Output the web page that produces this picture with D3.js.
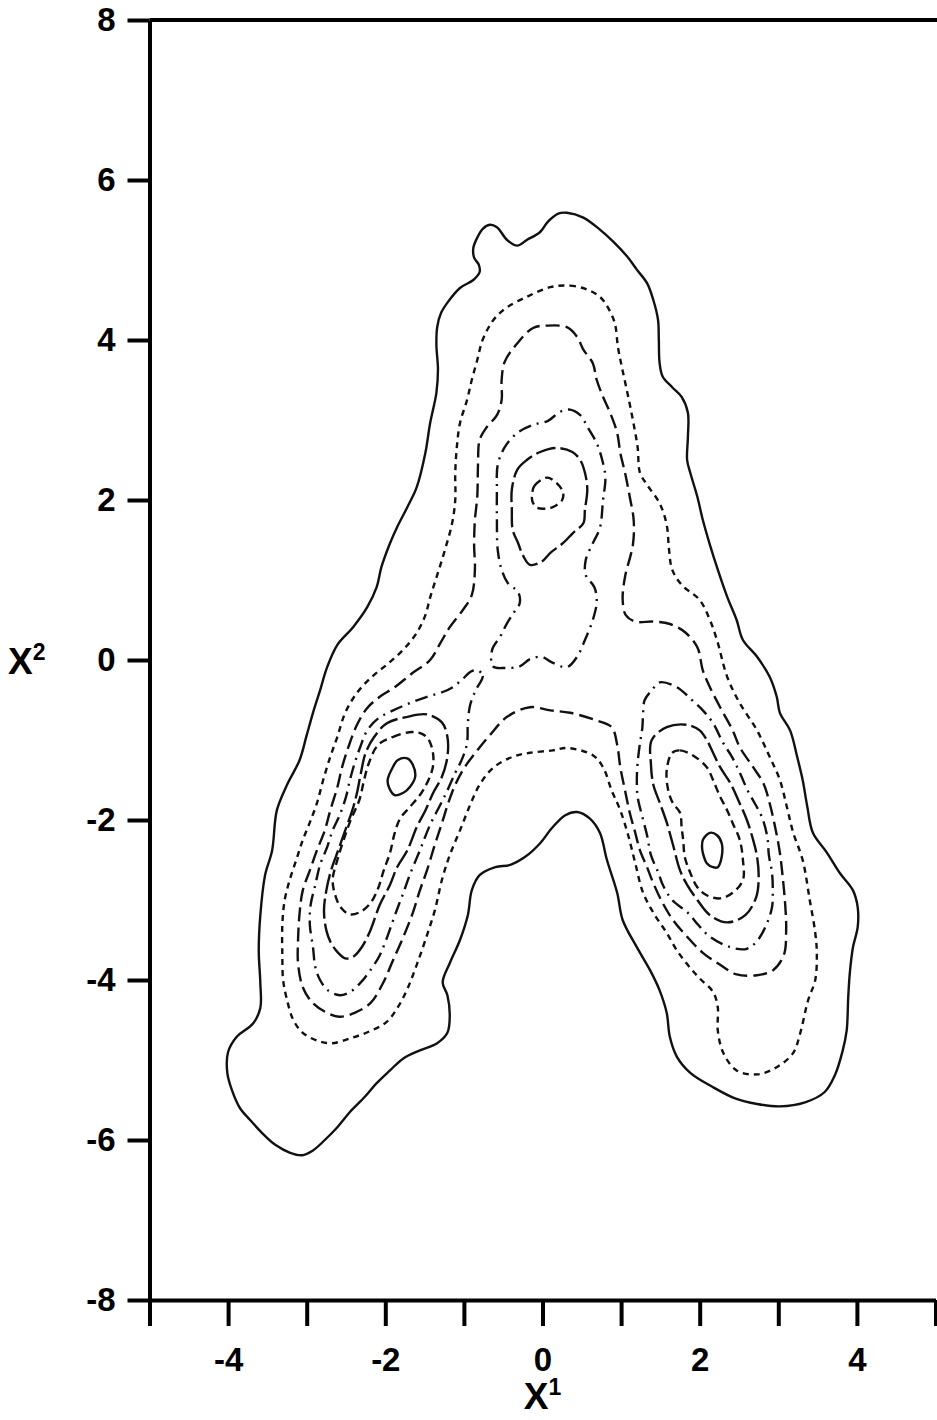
<!DOCTYPE html>
<html>
<head>
<meta charset="utf-8">
<script src="https://cdn.jsdelivr.net/npm/d3@7"></script>
<style>
    body { margin: 0; background: #fff; }
    svg { display: block; background: #fff; }
    .axis text { font-family: "Liberation Sans", Arial, sans-serif; font-weight: bold; font-size: 33px; fill: #000; }
    .axis line, .axis path { stroke: #000; stroke-width: 4; }
    .title { font-family: "Liberation Sans", Arial, sans-serif; font-weight: bold; fill: #000; }
    .contour { fill: none; stroke: #111; stroke-width: 2.4; stroke-linejoin: round; }
</style>
</head>
<body>
<div id="graph"></div>
<script>
// axis ticks
var xTicks = [-5, -4, -3, -2, -1, 0, 1, 2, 3, 4, 5];
var xLabels = [-4, -2, 0, 2, 4];
var yTicks = [-8, -6, -4, -2, 0, 2, 4, 6, 8];

// contour lines, [x1, x2] pairs, level 1 = outermost
var level1Outer = [[0.31,5.59],[0.52,5.53],[0.73,5.38],[0.90,5.23],[1.08,5.04],[1.20,4.88],[1.33,4.71],[1.41,4.50],[1.47,4.25],[1.48,4.00],[1.49,3.71],[1.53,3.54],[1.65,3.41],[1.77,3.29],[1.85,3.09],[1.85,2.79],[1.84,2.50],[1.88,2.34],[1.97,2.04],[2.04,1.75],[2.13,1.44],[2.23,1.13],[2.35,0.79],[2.47,0.50],[2.55,0.25],[2.73,0.04],[2.89,-0.21],[2.98,-0.46],[3.02,-0.66],[3.15,-0.88],[3.24,-1.21],[3.31,-1.50],[3.37,-1.84],[3.44,-2.16],[3.62,-2.41],[3.78,-2.66],[3.95,-2.88],[4.01,-3.09],[4.01,-3.34],[3.95,-3.59],[3.91,-3.91],[3.89,-4.21],[3.87,-4.63],[3.82,-4.88],[3.72,-5.19],[3.59,-5.40],[3.34,-5.53],[3.02,-5.58],[2.73,-5.55],[2.45,-5.48],[2.17,-5.34],[1.88,-5.16],[1.71,-4.96],[1.62,-4.71],[1.58,-4.41],[1.49,-4.13],[1.37,-3.88],[1.20,-3.59],[1.02,-3.25],[0.95,-2.91],[0.82,-2.50],[0.73,-2.16],[0.60,-1.98],[0.44,-1.90],[0.29,-1.94],[0.12,-2.10],[-0.03,-2.29],[-0.22,-2.46],[-0.41,-2.56],[-0.60,-2.59],[-0.80,-2.69],[-0.90,-2.88],[-0.95,-3.19],[-1.05,-3.50],[-1.18,-3.79],[-1.27,-4.03],[-1.21,-4.19],[-1.18,-4.44],[-1.21,-4.66],[-1.34,-4.79],[-1.56,-4.88],[-1.77,-4.98],[-1.94,-5.13],[-2.11,-5.29],[-2.26,-5.46],[-2.45,-5.65],[-2.61,-5.84],[-2.77,-6.00],[-2.92,-6.13],[-3.06,-6.19],[-3.21,-6.16],[-3.40,-6.06],[-3.57,-5.91],[-3.72,-5.75],[-3.85,-5.60],[-3.95,-5.38],[-4.01,-5.16],[-4.00,-4.90],[-3.89,-4.71],[-3.68,-4.54],[-3.59,-4.35],[-3.59,-4.04],[-3.61,-3.63],[-3.59,-3.19],[-3.53,-2.69],[-3.44,-2.38],[-3.38,-1.88],[-3.25,-1.56],[-3.09,-1.25],[-3.00,-0.94],[-2.92,-0.66],[-2.83,-0.38],[-2.74,-0.09],[-2.61,0.19],[-2.41,0.41],[-2.23,0.66],[-2.11,0.91],[-2.05,1.16],[-1.94,1.46],[-1.85,1.66],[-1.72,1.91],[-1.60,2.16],[-1.49,2.59],[-1.43,2.96],[-1.35,3.34],[-1.33,3.63],[-1.35,3.94],[-1.34,4.16],[-1.29,4.34],[-1.20,4.48],[-1.05,4.65],[-0.88,4.75],[-0.80,4.85],[-0.81,4.94],[-0.87,5.03],[-0.88,5.15],[-0.83,5.28],[-0.76,5.39],[-0.67,5.44],[-0.58,5.41],[-0.45,5.25],[-0.32,5.18],[-0.20,5.25],[-0.03,5.35],[0.07,5.48],[0.20,5.58]];

var level2Ring = [[0.10,4.66],[0.35,4.68],[0.57,4.63],[0.73,4.54],[0.83,4.41],[0.92,4.21],[0.96,3.91],[1.01,3.66],[1.08,3.34],[1.15,3.00],[1.21,2.66],[1.24,2.34],[1.33,2.19],[1.49,1.96],[1.58,1.69],[1.61,1.38],[1.65,1.13],[1.77,0.94],[2.00,0.75],[2.13,0.50],[2.22,0.25],[2.35,-0.21],[2.51,-0.54],[2.73,-0.88],[2.89,-1.21],[3.02,-1.50],[3.11,-1.84],[3.19,-2.16],[3.31,-2.50],[3.40,-3.00],[3.47,-3.41],[3.49,-3.66],[3.47,-4.00],[3.38,-4.25],[3.28,-4.66],[3.19,-4.91],[2.98,-5.09],[2.73,-5.18],[2.47,-5.13],[2.30,-4.91],[2.23,-4.63],[2.23,-4.34],[2.17,-4.15],[2.00,-3.98],[1.88,-3.85],[1.71,-3.63],[1.58,-3.41],[1.43,-3.19],[1.28,-2.91],[1.18,-2.54],[1.09,-2.19],[0.99,-1.88],[0.88,-1.63],[0.77,-1.34],[0.64,-1.19],[0.31,-1.10],[0.13,-1.13],[-0.16,-1.16],[-0.38,-1.21],[-0.63,-1.35],[-0.80,-1.56],[-0.92,-1.81],[-1.05,-2.13],[-1.18,-2.44],[-1.28,-2.75],[-1.37,-3.13],[-1.49,-3.50],[-1.60,-3.81],[-1.71,-4.09],[-1.84,-4.34],[-1.99,-4.53],[-2.22,-4.65],[-2.45,-4.73],[-2.68,-4.79],[-2.86,-4.76],[-3.05,-4.66],[-3.17,-4.50],[-3.25,-4.25],[-3.30,-4.00],[-3.31,-3.69],[-3.31,-3.31],[-3.28,-3.00],[-3.21,-2.73],[-3.12,-2.46],[-3.05,-2.25],[-2.96,-2.03],[-2.87,-1.79],[-2.79,-1.50],[-2.70,-1.21],[-2.61,-0.96],[-2.51,-0.66],[-2.36,-0.41],[-2.17,-0.21],[-1.97,-0.05],[-1.77,0.13],[-1.60,0.34],[-1.49,0.56],[-1.43,0.78],[-1.34,1.06],[-1.24,1.38],[-1.15,1.71],[-1.11,2.00],[-1.11,2.34],[-1.09,2.66],[-1.05,2.96],[-0.96,3.25],[-0.90,3.50],[-0.83,3.75],[-0.77,3.98],[-0.69,4.15],[-0.60,4.28],[-0.45,4.41],[-0.20,4.54]];

var level3Ring = [[0.06,4.18],[0.31,4.16],[0.44,4.04],[0.52,3.88],[0.64,3.71],[0.69,3.50],[0.77,3.29],[0.86,3.09],[0.95,2.84],[0.99,2.59],[1.05,2.34],[1.11,2.04],[1.16,1.75],[1.15,1.44],[1.05,1.04],[1.02,0.75],[1.06,0.56],[1.18,0.48],[1.41,0.48],[1.62,0.45],[1.81,0.35],[1.97,0.16],[2.04,-0.13],[2.13,-0.34],[2.26,-0.59],[2.42,-0.88],[2.51,-1.09],[2.68,-1.34],[2.81,-1.54],[2.89,-1.79],[2.96,-2.09],[3.02,-2.41],[3.06,-2.75],[3.09,-3.09],[3.10,-3.38],[3.07,-3.69],[2.93,-3.88],[2.73,-3.94],[2.47,-3.93],[2.26,-3.81],[2.04,-3.66],[1.84,-3.46],[1.66,-3.25],[1.53,-3.04],[1.41,-2.79],[1.33,-2.59],[1.24,-2.38],[1.18,-2.16],[1.11,-1.91],[1.05,-1.63],[0.99,-1.34],[0.95,-1.06],[0.88,-0.84],[0.67,-0.75],[0.35,-0.66],[0.10,-0.63],[-0.16,-0.59],[-0.45,-0.71],[-0.67,-0.94],[-0.83,-1.13],[-0.99,-1.34],[-1.11,-1.56],[-1.20,-1.79],[-1.28,-2.04],[-1.37,-2.31],[-1.47,-2.63],[-1.56,-2.88],[-1.65,-3.16],[-1.77,-3.46],[-1.90,-3.75],[-2.03,-4.04],[-2.19,-4.29],[-2.39,-4.41],[-2.58,-4.46],[-2.74,-4.41],[-2.92,-4.29],[-3.05,-4.09],[-3.11,-3.79],[-3.11,-3.50],[-3.09,-3.16],[-3.05,-2.88],[-2.96,-2.63],[-2.87,-2.38],[-2.77,-2.13],[-2.70,-1.88],[-2.61,-1.59],[-2.55,-1.34],[-2.47,-1.09],[-2.36,-0.81],[-2.23,-0.60],[-2.07,-0.46],[-1.88,-0.34],[-1.65,-0.16],[-1.43,0.00],[-1.30,0.21],[-1.18,0.41],[-1.01,0.63],[-0.90,0.81],[-0.86,1.13],[-0.87,1.44],[-0.86,1.75],[-0.83,2.04],[-0.82,2.46],[-0.80,2.75],[-0.71,2.91],[-0.58,3.06],[-0.52,3.25],[-0.52,3.50],[-0.48,3.73],[-0.32,3.96],[-0.12,4.15]];

var level4Top = [[0.22,3.10],[0.35,3.13],[0.48,3.06],[0.58,2.90],[0.69,2.71],[0.76,2.50],[0.80,2.28],[0.77,2.00],[0.73,1.65],[0.64,1.46],[0.55,1.25],[0.55,1.06],[0.66,0.91],[0.69,0.73],[0.64,0.50],[0.54,0.25],[0.44,0.04],[0.31,-0.09],[0.12,-0.03],[-0.01,0.04],[-0.16,0.01],[-0.29,-0.08],[-0.48,-0.10],[-0.63,-0.08],[-0.64,0.13],[-0.54,0.29],[-0.45,0.46],[-0.36,0.60],[-0.29,0.71],[-0.31,0.85],[-0.44,0.96],[-0.52,1.13],[-0.57,1.38],[-0.58,1.75],[-0.58,2.13],[-0.57,2.44],[-0.48,2.66],[-0.32,2.84],[-0.12,2.94],[0.07,2.99]];
var level4Left = [[-0.82,-0.13],[-0.76,-0.20],[-0.85,-0.38],[-0.92,-0.56],[-0.95,-0.79],[-0.96,-1.04],[-1.02,-1.23],[-1.11,-1.41],[-1.21,-1.63],[-1.30,-1.81],[-1.43,-2.06],[-1.56,-2.38],[-1.69,-2.69],[-1.77,-2.91],[-1.84,-3.09],[-1.91,-3.28],[-1.99,-3.50],[-2.07,-3.69],[-2.17,-3.85],[-2.32,-4.04],[-2.45,-4.15],[-2.58,-4.19],[-2.73,-4.13],[-2.83,-4.00],[-2.89,-3.84],[-2.92,-3.59],[-2.96,-3.31],[-2.95,-3.06],[-2.89,-2.81],[-2.83,-2.56],[-2.74,-2.34],[-2.67,-2.13],[-2.58,-1.94],[-2.50,-1.71],[-2.45,-1.50],[-2.39,-1.29],[-2.32,-1.09],[-2.23,-0.88],[-2.09,-0.73],[-1.90,-0.63],[-1.69,-0.54],[-1.47,-0.46],[-1.27,-0.40],[-1.14,-0.34],[-1.02,-0.24],[-0.90,-0.14]];
var level4Right = [[1.49,-0.28],[1.71,-0.34],[1.90,-0.50],[2.04,-0.63],[2.17,-0.79],[2.30,-1.04],[2.41,-1.21],[2.51,-1.41],[2.61,-1.63],[2.70,-1.79],[2.79,-1.96],[2.86,-2.21],[2.88,-2.44],[2.92,-2.66],[2.93,-2.91],[2.92,-3.09],[2.86,-3.28],[2.74,-3.50],[2.60,-3.61],[2.39,-3.59],[2.13,-3.46],[1.98,-3.31],[1.85,-3.16],[1.65,-3.00],[1.53,-2.81],[1.47,-2.65],[1.38,-2.44],[1.33,-2.19],[1.27,-1.96],[1.21,-1.71],[1.20,-1.50],[1.21,-1.29],[1.24,-1.04],[1.27,-0.85],[1.28,-0.66],[1.30,-0.50],[1.39,-0.38]];

var level5Top = [[-0.39,2.13],[-0.32,2.38],[-0.20,2.50],[-0.03,2.60],[0.18,2.65],[0.38,2.60],[0.48,2.50],[0.54,2.34],[0.57,2.13],[0.54,1.88],[0.52,1.71],[0.39,1.59],[0.26,1.46],[0.10,1.34],[-0.01,1.23],[-0.16,1.19],[-0.25,1.31],[-0.31,1.46],[-0.38,1.63],[-0.39,1.88]];
var level5Left = [[-1.98,-0.79],[-1.72,-0.71],[-1.47,-0.68],[-1.28,-0.78],[-1.21,-0.96],[-1.21,-1.21],[-1.28,-1.46],[-1.39,-1.66],[-1.49,-1.88],[-1.60,-2.09],[-1.72,-2.38],[-1.85,-2.59],[-1.94,-2.81],[-2.07,-3.06],[-2.19,-3.38],[-2.30,-3.59],[-2.41,-3.71],[-2.51,-3.73],[-2.60,-3.66],[-2.69,-3.54],[-2.75,-3.38],[-2.78,-3.13],[-2.75,-2.88],[-2.69,-2.63],[-2.60,-2.38],[-2.51,-2.13],[-2.42,-1.88],[-2.36,-1.66],[-2.31,-1.41],[-2.25,-1.16],[-2.14,-0.96]];
var level5Right = [[1.39,-1.00],[1.58,-0.84],[1.84,-0.81],[2.00,-0.88],[2.09,-1.00],[2.17,-1.16],[2.26,-1.34],[2.39,-1.54],[2.49,-1.75],[2.60,-2.00],[2.68,-2.25],[2.73,-2.46],[2.75,-2.71],[2.72,-2.96],[2.58,-3.19],[2.35,-3.28],[2.13,-3.19],[1.97,-3.00],[1.84,-2.81],[1.75,-2.63],[1.66,-2.31],[1.58,-2.03],[1.49,-1.78],[1.41,-1.56],[1.38,-1.31]];

var level6Top = [[-0.13,2.09],[-0.10,2.18],[0.06,2.28],[0.18,2.21],[0.26,2.10],[0.25,2.00],[0.13,1.91],[0.01,1.89],[-0.08,1.91],[-0.13,1.99]];
var level6Left = [[-2.09,-1.06],[-1.90,-0.96],[-1.66,-0.90],[-1.52,-0.93],[-1.43,-1.03],[-1.39,-1.31],[-1.52,-1.63],[-1.69,-1.84],[-1.81,-1.98],[-1.88,-2.16],[-1.94,-2.41],[-2.02,-2.63],[-2.09,-2.85],[-2.19,-3.04],[-2.32,-3.15],[-2.45,-3.18],[-2.56,-3.10],[-2.63,-2.96],[-2.67,-2.75],[-2.61,-2.50],[-2.53,-2.25],[-2.44,-2.00],[-2.33,-1.75],[-2.27,-1.50],[-2.21,-1.29]];
var level6Right = [[1.65,-1.16],[1.75,-1.13],[1.91,-1.19],[2.09,-1.34],[2.17,-1.50],[2.26,-1.71],[2.35,-1.88],[2.42,-2.04],[2.51,-2.25],[2.55,-2.50],[2.55,-2.75],[2.42,-2.91],[2.26,-2.98],[2.09,-2.94],[1.97,-2.84],[1.88,-2.66],[1.81,-2.46],[1.79,-2.25],[1.77,-2.09],[1.75,-1.91],[1.66,-1.79],[1.60,-1.63],[1.58,-1.38]];

var level7Left = [[-1.97,-1.50],[-1.91,-1.35],[-1.84,-1.25],[-1.72,-1.23],[-1.65,-1.31],[-1.62,-1.46],[-1.69,-1.59],[-1.77,-1.66],[-1.88,-1.69],[-1.95,-1.60]];
var level7Right = [[2.04,-2.25],[2.13,-2.16],[2.22,-2.19],[2.28,-2.29],[2.28,-2.46],[2.23,-2.59],[2.17,-2.59],[2.09,-2.54],[2.04,-2.41],[2.03,-2.34]];

var graph = (function () {
    var width = 937, height = 1420;
    var svg = d3.select("#graph").append("svg")
        .attr("width", width)
        .attr("height", height);

    var x = d3.scaleLinear().domain([-5, 5]).range([149.5, 935.5]);
    var y = d3.scaleLinear().domain([-8, 8]).range([1300, 20]);

    // line style per contour level
    var dashes = {1: null, 2: "6,5", 3: "14,6", 4: "13,6,2,6", 5: "20,5", 6: "8,5", 7: null};

    var contours = [
        {level: 1, pts: level1Outer},
        {level: 2, pts: level2Ring},
        {level: 3, pts: level3Ring},
        {level: 4, pts: level4Top},
        {level: 4, pts: level4Left},
        {level: 4, pts: level4Right},
        {level: 5, pts: level5Top},
        {level: 5, pts: level5Left},
        {level: 5, pts: level5Right},
        {level: 6, pts: level6Top},
        {level: 6, pts: level6Left},
        {level: 6, pts: level6Right},
        {level: 7, pts: level7Left},
        {level: 7, pts: level7Right}
    ];

    var line = d3.line()
        .x(function (d) { return x(d[0]); })
        .y(function (d) { return y(d[1]); })
        .curve(d3.curveCatmullRomClosed.alpha(0.5));

    // frame line along the top
    svg.append("line")
        .attr("x1", x(-5)).attr("x2", width)
        .attr("y1", y(8)).attr("y2", y(8))
        .attr("stroke", "#000").attr("stroke-width", 4);

    // axes
    var yAxis = d3.axisLeft(y)
        .tickValues(yTicks)
        .tickSize(22)
        .tickSizeOuter(0)
        .tickPadding(12)
        .tickFormat(function (d) { return String(d); });

    var xAxis = d3.axisBottom(x)
        .tickValues(xTicks)
        .tickSize(26)
        .tickSizeOuter(0)
        .tickPadding(22)
        .tickFormat(function (d) { return xLabels.indexOf(d) >= 0 ? String(d) : ""; });

    svg.append("g")
        .attr("class", "x axis")
        .attr("transform", "translate(0," + y(-8) + ")")
        .call(xAxis);

    svg.append("g")
        .attr("class", "y axis")
        .attr("transform", "translate(" + x(-5) + ",0)")
        .call(yAxis);

    svg.selectAll(".axis .domain").attr("stroke-width", 4);
    svg.selectAll(".axis .tick line").attr("stroke-width", 4);

    // contour lines
    svg.append("g").selectAll("path.contour")
        .data(contours)
        .enter().append("path")
        .attr("class", function (d) { return "contour level" + d.level; })
        .attr("d", function (d) { return line(d.pts); })
        .attr("stroke-dasharray", function (d) { return dashes[d.level]; });

    // axis titles
    var xt = svg.append("text")
        .attr("class", "title")
        .attr("x", x(0))
        .attr("y", 1409)
        .attr("text-anchor", "middle")
        .style("font-size", "37px")
        .text("X");
    xt.append("tspan").attr("dy", -14).style("font-size", "23px").text("1");

    var yt = svg.append("text")
        .attr("class", "title")
        .attr("x", 8)
        .attr("y", y(0) + 14)
        .style("font-size", "37px")
        .text("X");
    yt.append("tspan").attr("dy", -14).style("font-size", "23px").text("2");

    return {svg: svg};
})();
</script>
</body>
</html>
